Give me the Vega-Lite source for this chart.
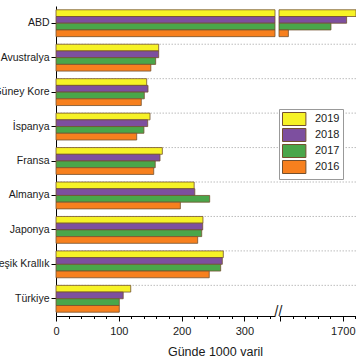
{
  "$schema": "https://vega.github.io/schema/vega-lite/v6.json",
  "width": 300,
  "height": 310,
  "autosize": {"type": "none"},
  "padding": {"left": 56, "top": 6, "right": 0, "bottom": 48},
  "background": "white",
  "config": {"view": {"stroke": null}, "font": "Liberation Sans"},
  "data": {
    "values": [
      {"country": "ABD", "year": "2019", "value": 1730},
      {"country": "ABD", "year": "2018", "value": 1706},
      {"country": "ABD", "year": "2017", "value": 1681},
      {"country": "ABD", "year": "2016", "value": 1613},
      {"country": "Avustralya", "year": "2019", "value": 163.5},
      {"country": "Avustralya", "year": "2018", "value": 163.5},
      {"country": "Avustralya", "year": "2017", "value": 158.7},
      {"country": "Avustralya", "year": "2016", "value": 151},
      {"country": "Güney Kore", "year": "2019", "value": 144.4},
      {"country": "Güney Kore", "year": "2018", "value": 146.5},
      {"country": "Güney Kore", "year": "2017", "value": 140.6},
      {"country": "Güney Kore", "year": "2016", "value": 135.8},
      {"country": "İspanya", "year": "2019", "value": 149.7},
      {"country": "İspanya", "year": "2018", "value": 146},
      {"country": "İspanya", "year": "2017", "value": 140},
      {"country": "İspanya", "year": "2016", "value": 128.5},
      {"country": "Fransa", "year": "2019", "value": 169.3},
      {"country": "Fransa", "year": "2018", "value": 165.6},
      {"country": "Fransa", "year": "2017", "value": 158},
      {"country": "Fransa", "year": "2016", "value": 155.6},
      {"country": "Almanya", "year": "2019", "value": 220},
      {"country": "Almanya", "year": "2018", "value": 221},
      {"country": "Almanya", "year": "2017", "value": 244.7},
      {"country": "Almanya", "year": "2016", "value": 198},
      {"country": "Japonya", "year": "2019", "value": 234},
      {"country": "Japonya", "year": "2018", "value": 233.6},
      {"country": "Japonya", "year": "2017", "value": 232},
      {"country": "Japonya", "year": "2016", "value": 225.6},
      {"country": "Birleşik Krallık", "year": "2019", "value": 266.4},
      {"country": "Birleşik Krallık", "year": "2018", "value": 264.8},
      {"country": "Birleşik Krallık", "year": "2017", "value": 262.2},
      {"country": "Birleşik Krallık", "year": "2016", "value": 244},
      {"country": "Türkiye", "year": "2019", "value": 119},
      {"country": "Türkiye", "year": "2018", "value": 107},
      {"country": "Türkiye", "year": "2017", "value": 100.8},
      {"country": "Türkiye", "year": "2016", "value": 100.8}
    ]
  },
  "layer": [
    {
      "transform": [{"filter": "datum.year == '2019' && datum.country != 'ABD'"}],
      "mark": {"type": "rule", "color": "#bdbdbd", "strokeDash": [1.5, 1.5], "strokeWidth": 1},
      "encoding": {
        "y": {
          "field": "country", "type": "nominal", "bandPosition": 0,
          "scale": {"domain": ["ABD", "Avustralya", "Güney Kore", "İspanya", "Fransa", "Almanya", "Japonya", "Birleşik Krallık", "Türkiye"], "paddingInner": 0.22, "paddingOuter": 0.11}
        }
      }
    },
    {
      "mark": {"type": "bar", "stroke": "#74502e", "strokeWidth": 0.8},
      "encoding": {
        "y": {
          "field": "country", "type": "nominal",
          "scale": {"domain": ["ABD", "Avustralya", "Güney Kore", "İspanya", "Fransa", "Almanya", "Japonya", "Birleşik Krallık", "Türkiye"], "paddingInner": 0.22, "paddingOuter": 0.11},
          "axis": {"title": null, "labelFontSize": 10.5, "labelColor": "#1a1a1a", "tickColor": "black", "domainColor": "black", "tickSize": 5, "labelPadding": 2, "grid": false}
        },
        "yOffset": {"field": "year", "type": "nominal", "scale": {"domain": ["2019", "2018", "2017", "2016"], "paddingInner": 0, "paddingOuter": 0}},
        "x": {
          "field": "value", "type": "quantitative",
          "scale": {"domain": [0, 348.7], "range": [0, 219], "clamp": true, "nice": false, "zero": true},
          "axis": {
            "orient": "bottom",
            "values": [0, 20, 40, 60, 80, 100, 120, 140, 160, 180, 200, 220, 240, 260, 280, 300, 320, 340, 348.7],
            "labelExpr": "datum.value > 345 ? '//' : (datum.value % 100 == 0 ? datum.label : '')",
            "tickSize": {"condition": {"test": "datum.value % 100 == 0", "value": 5}, "value": 2.5},
            "tickOpacity": {"condition": {"test": "datum.value > 345", "value": 0}, "value": 1},
            "labelPadding": {"condition": {"test": "datum.value > 345", "value": -14}, "value": 4},
            "labelOffset": {"condition": {"test": "datum.value > 345", "value": 3}, "value": 0},
            "labelFontSize": {"condition": {"test": "datum.value > 345", "value": 14}, "value": 11},
            "labelFlush": false,
            "labelOverlap": false,
            "labelColor": "#1a1a1a",
            "tickColor": "black",
            "domainColor": "black",
            "grid": false,
            "title": "Günde 1000 varil",
            "titleFontSize": 12.5,
            "titleFontWeight": "normal",
            "titleColor": "#1a1a1a",
            "titleX": 159,
            "titlePadding": 9
          }
        },
        "color": {
          "field": "year", "type": "nominal",
          "scale": {"domain": ["2019", "2018", "2017", "2016"], "range": ["#f6f226", "#7d4f9f", "#4aa64a", "#f7801e"]},
          "legend": {
            "orient": "none", "legendX": 223, "legendY": 103, "title": null,
            "strokeColor": "#999999", "fillColor": "white", "padding": 3,
            "symbolType": "M-1,-1H2.6V1H-1Z", "symbolSize": 169,
            "symbolStrokeColor": "#74502e", "symbolStrokeWidth": 1,
            "labelFontSize": 11, "labelOffset": 19, "rowPadding": -2, "labelColor": "#1a1a1a"
          }
        }
      }
    },
    {
      "transform": [{"filter": "datum.country == 'ABD'"}],
      "mark": {"type": "bar", "stroke": "#74502e", "strokeWidth": 0.8},
      "encoding": {
        "y": {
          "field": "country", "type": "nominal",
          "scale": {"domain": ["ABD", "Avustralya", "Güney Kore", "İspanya", "Fransa", "Almanya", "Japonya", "Birleşik Krallık", "Türkiye"], "paddingInner": 0.22, "paddingOuter": 0.11}
        },
        "yOffset": {"field": "year", "type": "nominal", "scale": {"domain": ["2019", "2018", "2017", "2016"], "paddingInner": 0, "paddingOuter": 0}},
        "x": {
          "field": "value", "type": "quantitative",
          "scale": {"domain": [1598, 1721], "range": [223, 300], "clamp": true, "nice": false, "zero": false},
          "axis": {
            "orient": "bottom",
            "values": [1600, 1620, 1640, 1660, 1680, 1700, 1720],
            "labelExpr": "datum.value == 1700 ? '1700' : ''",
            "tickSize": {"condition": {"test": "datum.value % 100 == 0", "value": 5}, "value": 2.5},
            "labelPadding": 4,
            "labelFontSize": 11,
            "labelFlush": false,
            "labelOverlap": false,
            "labelColor": "#1a1a1a",
            "tickColor": "black",
            "domainColor": "black",
            "grid": false,
            "title": null
          }
        },
        "x2": {"datum": 0},
        "color": {"field": "year", "type": "nominal"}
      }
    }
  ],
  "resolve": {"scale": {"x": "independent"}, "axis": {"x": "independent"}}
}
